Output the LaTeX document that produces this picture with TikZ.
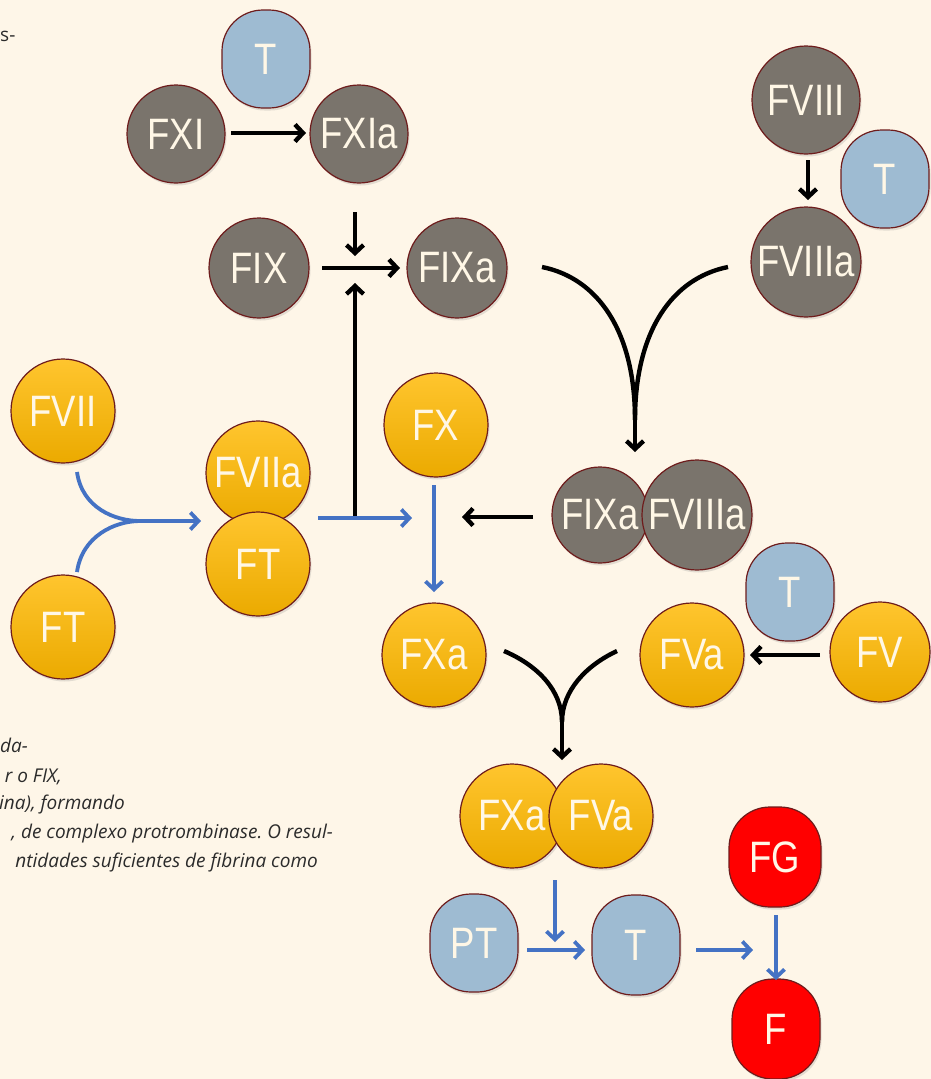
\documentclass[tikz,border=0pt]{standalone}
\usepackage{fontspec}
\setmainfont{Open Sans}
\newfontfamily\lblfont[FakeStretch=0.83]{Liberation Sans}
\usetikzlibrary{arrows.meta,shadows}
\frenchspacing
\definecolor{bg}{HTML}{FEF6E8}
\definecolor{gfill}{HTML}{7A746C}
\definecolor{edgec}{HTML}{6E1C1C}
\definecolor{ytop}{HTML}{FFC52E}
\definecolor{ybot}{HTML}{EBAA00}
\definecolor{bfill}{HTML}{9EBBD2}
\definecolor{rfill}{HTML}{FF0000}
\definecolor{lblc}{HTML}{FFF7E6}
\definecolor{arrblue}{HTML}{4472C4}
\definecolor{txtc}{HTML}{2B2B2B}
\tikzset{
  basenode/.style={draw=edgec, line width=1.2pt, text=lblc, inner sep=0pt,
    font=\lblfont\fontsize{44}{44}\selectfont,
    drop shadow={shadow xshift=1.5pt,shadow yshift=-2.5pt,opacity=0.22}},
  gcirc/.style={basenode, circle, fill=gfill, minimum size=#1},
  ycirc/.style={basenode, circle, top color=ytop, bottom color=ybot, minimum size=#1},
  bsq/.style={basenode, rectangle, rounded corners=41pt, fill=bfill, minimum width=88pt, minimum height=98pt},
  rsq/.style={basenode, rectangle, rounded corners=41pt, fill=rfill, minimum width=92pt, minimum height=100pt},
  blk/.style={line width=4.4pt, black, -{Straight Barb[length=8pt,width=17pt]}},
  blkline/.style={line width=4.4pt, black},
  blu/.style={line width=3.8pt, arrblue, -{Straight Barb[length=8pt,width=17pt]}},
  bluline/.style={line width=3.8pt, arrblue},
  para/.style={text=txtc, font=\itshape\fontsize{19}{22}\selectfont, inner sep=0pt, anchor=base east},
}
\begin{document}
\begin{tikzpicture}[x=1pt,y=-1pt]
\fill[bg] (0,0) rectangle (931,1079);
\useasboundingbox (0,0) rectangle (931,1079);

% text fragments
\node[para, font=\fontsize{19}{20}\selectfont, anchor=base west] (s0) at (0,41) {s-};
\node[para, anchor=base west] (p1) at (0,752) {da-};
\node[para] (p2) at (62,782) {r o FIX,};
\node[para] (p3) at (125,809) {ina), formando};
\node[para] (p4) at (333,838) {, de complexo protrombinase. O resul-};
\node[para] (p5) at (318,867) {ntidades suficientes de fibrina como};

% top gray group
\node[bsq] (T1) at (266,59) {T};
\node[gcirc=98pt] (FXI) at (176,134) {FXI};
\node[gcirc=98pt] (FXIa) at (359,134) {FXIa};
\node[gcirc=100pt] (FIX) at (259,268) {FIX};
\node[gcirc=100pt] (FIXa) at (457,268) {FIXa};
\node[gcirc=108pt] (FVIII) at (806,100) {FVIII};
\node[bsq] (T2) at (885,179) {T};
\node[gcirc=110pt] (FVIIIa) at (806,262) {FVIIIa};
\node[gcirc=96pt] (CIXa) at (600,515) {FIXa};
\node[gcirc=110pt] (CVIIIa) at (697,515) {FVIIIa};

% yellow group
\node[ycirc=104pt] (FVII) at (63,411) {FVII};
\node[ycirc=104pt] (FTl) at (63,627) {FT};
\node[ycirc=104pt] (FVIIa) at (258,473) {FVIIa};
\node[ycirc=104pt] (FTm) at (258,564) {FT};
\node[ycirc=104pt] (FX) at (436,425) {FX};
\node[ycirc=104pt] (FXa) at (434,655) {FXa};
\node[bsq] (T3) at (790,592) {T};
\node[ycirc=104pt] (FVa) at (692,655) {FVa};
\node[ycirc=100pt] (FV) at (880,652) {FV};
\node[ycirc=104pt] (CXa) at (512,816) {FXa};
\node[ycirc=104pt] (CVa) at (601,816) {FVa};

% bottom
\node[bsq] (PT) at (474,943) {PT};
\node[bsq, minimum height=100pt] (T4) at (636,945) {T};
\node[rsq] (FG) at (775,857) {FG};
\node[rsq, minimum width=88pt] (F) at (776,1029) {F};

% connectors (black)
\draw[blk] (231,133) coordinate (a1s) -- (306,133) coordinate (a1e);
\coordinate (j1) at (355,268);
\coordinate (j1top) at (355,212);
\coordinate (j1bot) at (355,518);
\draw[blk] (j1top) -- (355,256);
\draw[blk] (322,268) coordinate (a2s) -- (400,268) coordinate (a2e);
\draw[blk] (j1bot) -- (355,283);
\draw[blk] (808,160) coordinate (v8s) -- (808,200) coordinate (v8e);

\coordinate (m1) at (635,420);
\draw[blkline] (542,267) coordinate (c1l) .. controls (597,278) and (635,330) .. (m1);
\draw[blkline] (728,267) coordinate (c1r) .. controls (673,278) and (635,330) .. (m1);
\draw[blk] (m1) -- (635,452) coordinate (c1t);

\draw[blk] (533,517) coordinate (x1s) -- (462,517) coordinate (x1e);
\draw[blk] (820,655) coordinate (x2s) -- (750,655) coordinate (x2e);

\coordinate (m2) at (562,722);
\draw[blkline] (504,651) coordinate (c2l) .. controls (537,665) and (562,690) .. (m2);
\draw[blkline] (617,651) coordinate (c2r) .. controls (587,665) and (562,690) .. (m2);
\draw[blk] (m2) -- (562,760) coordinate (c2t);

% connectors (blue)
\coordinate (m3) at (140,521);
\draw[bluline] (77,472) coordinate (b1s) .. controls (82,508) and (115,521) .. (m3);
\draw[bluline] (77,572) coordinate (b2s) .. controls (82,536) and (115,521) .. (m3);
\draw[blu] (m3) -- (201,521) coordinate (b1e);
\draw[blu] (318,518) coordinate (b3s) -- (412,518) coordinate (b3e);
\draw[blu] (434,485) coordinate (b4s) -- (434,592) coordinate (b4e);
\draw[blu] (555,880) coordinate (b5s) -- (555,942) coordinate (b5e);
\draw[blu] (527,950) coordinate (b6s) -- (585,950) coordinate (b6e);
\draw[blu] (696,950) coordinate (b7s) -- (753,950) coordinate (b7e);
\draw[blu] (776,915) coordinate (b8s) -- (776,980) coordinate (b8e);
\end{tikzpicture}
\end{document}
